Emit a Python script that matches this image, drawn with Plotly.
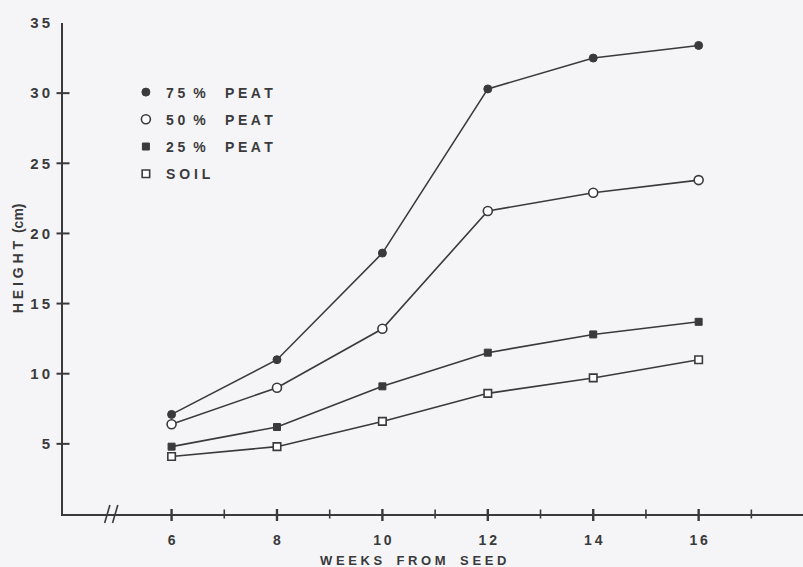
import plotly.graph_objects as go

# ---- data ----
weeks = [6, 8, 10, 12, 14, 16]
peat75 = [7.1, 11.0, 18.6, 30.3, 32.5, 33.4]
peat50 = [6.4, 9.0, 13.2, 21.6, 22.9, 23.8]
peat25 = [4.8, 6.2, 9.1, 11.5, 12.8, 13.7]
soil = [4.1, 4.8, 6.6, 8.6, 9.7, 11.0]

NB = "\u00a0"
series_names = ["7 5" + NB * 2 + "%" + NB * 5 + "P E A T",
                "5 0" + NB * 2 + "%" + NB * 5 + "P E A T",
                "2 5" + NB * 2 + "%" + NB * 5 + "P E A T",
                "S O I L"]

x_major = [6, 8, 10, 12, 14, 16]
x_major_text = ["6", "8", "1\u20090", "1\u20092", "1\u20094", "1\u20096"]
x_minor = [7, 9, 11, 13, 15, 17]
y_label_vals = [5, 10, 15, 20, 25, 30, 35]
y_label_text = ["5", "1\u20090", "1\u20095", "2\u20090", "2\u20095", "3\u20090", "3\u20095"]
y_tick_vals = [5, 10, 15, 20, 25, 30]
x_title = "W E E K S" + NB * 4 + "F R O M" + NB * 4 + "S E E D"
y_title = "H E I G H T" + NB * 2 + "(cm)"

X_RANGE = [3.94, 17.98]
Y_RANGE = [0, 35]
BREAK_X = [4.78, 4.93]

INK = "#3a3a3c"
BG = "#f5f5f7"
FONT = "Liberation Sans"

W, H = 803, 567
M = dict(l=63, r=0, t=23, b=53)
PW = W - M["l"] - M["r"]
PH = H - M["t"] - M["b"]


def bold(size):
    return dict(family=FONT, size=size, color=INK, weight="bold")


styles = [
    dict(symbol="circle", size=8, color=INK, line=dict(color=INK, width=1)),
    dict(symbol="circle", size=9, color="white", line=dict(color=INK, width=1.6)),
    dict(symbol="square", size=7, color=INK, line=dict(color=INK, width=1)),
    dict(symbol="square", size=7.5, color="white", line=dict(color=INK, width=1.6)),
]

fig = go.Figure()
for name, vals, st in zip(series_names, [peat75, peat50, peat25, soil], styles):
    fig.add_trace(go.Scatter(x=weeks, y=vals, mode="lines+markers", name=name,
                             line=dict(color=INK, width=1.6), marker=st,
                             showlegend=False))
    fig.add_trace(go.Scatter(x=[None], y=[None], mode="markers", name=name,
                             marker=st, legendgroup=name, showlegend=True))

fig.update_layout(
    width=W, height=H,
    margin=M,
    paper_bgcolor=BG, plot_bgcolor=BG,
    font=dict(family=FONT, color=INK),
    showlegend=True,
    legend=dict(x=0.085, y=0.891, xanchor="left", yanchor="top",
                font=bold(14), bgcolor="rgba(0,0,0,0)",
                tracegroupgap=6, itemwidth=30),
    xaxis=dict(range=X_RANGE, showgrid=False, zeroline=False,
               showline=True, linecolor=INK, linewidth=2,
               tickmode="array", tickvals=x_major, ticktext=x_major_text,
               ticks="", tickfont=bold(14), ticklabelstandoff=12),
    yaxis=dict(range=Y_RANGE, showgrid=False, zeroline=False,
               showline=True, linecolor=INK, linewidth=2,
               tickmode="array", tickvals=y_label_vals, ticktext=y_label_text,
               ticks="", tickfont=bold(15), ticklabelstandoff=8),
    annotations=[
        dict(text=x_title, xref="paper", yref="paper", x=0.473, y=0, yshift=-46,
             xanchor="center", yanchor="middle", showarrow=False, font=bold(13)),
        dict(text=y_title, xref="paper", yref="paper", x=0, xshift=-45, y=0.521,
             textangle=-90, xanchor="center", yanchor="middle", showarrow=False,
             font=bold(14)),
    ],
)

# crossing tick marks: value coordinate on the axis scale, length in paper units
for v in y_tick_vals:
    fig.add_shape(type="line", xref="paper", yref="y",
                  x0=-6.5 / PW, x1=6.5 / PW, y0=v, y1=v,
                  line=dict(color=INK, width=2))
for v in x_major:
    fig.add_shape(type="line", xref="x", yref="paper",
                  x0=v, x1=v, y0=-7 / PH, y1=5 / PH, line=dict(color=INK, width=2.4))
for v in x_minor:
    fig.add_shape(type="line", xref="x", yref="paper",
                  x0=v, x1=v, y0=-4.5 / PH, y1=4.5 / PH, line=dict(color=INK, width=1.6))

# axis-break marks "//" on the x axis
for bx in BREAK_X:
    fig.add_shape(type="line", xref="x", yref="paper",
                  x0=bx - 0.05, x1=bx + 0.05, y0=-9 / PH, y1=9 / PH,
                  line=dict(color=INK, width=1.6))

fig.write_html("out.html")
